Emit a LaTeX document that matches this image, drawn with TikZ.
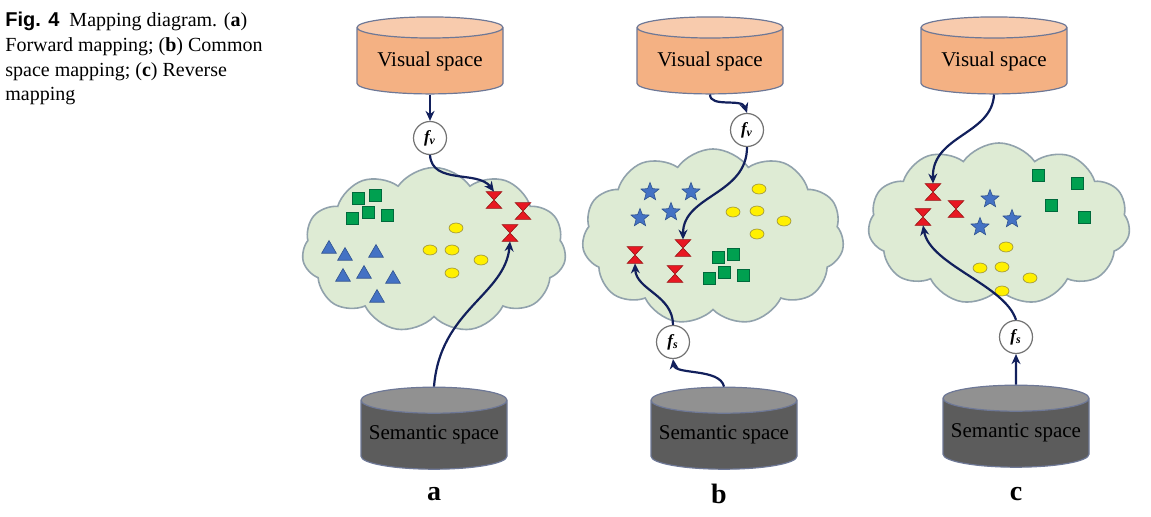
\documentclass[tikz,border=0pt]{standalone}
\usepackage{fontspec}
\setmainfont{Liberation Serif}
\newfontfamily\capsans{Liberation Sans}
\usetikzlibrary{shapes.geometric,shapes.symbols,arrows.meta}

\definecolor{cloudfill}{RGB}{222,235,212}
\definecolor{cloudline}{RGB}{145,162,172}
\definecolor{visbody}{RGB}{244,177,131}
\definecolor{vistop}{RGB}{248,203,173}
\definecolor{sembody}{RGB}{92,92,92}
\definecolor{semtop}{RGB}{145,145,145}
\definecolor{cylline}{RGB}{110,120,150}
\definecolor{arrowcol}{RGB}{18,32,92}
\definecolor{sqfill}{RGB}{0,160,80}
\definecolor{sqline}{RGB}{0,105,60}
\definecolor{blueshape}{RGB}{68,114,196}
\definecolor{blueline}{RGB}{47,82,143}
\definecolor{dotfill}{RGB}{255,240,0}
\definecolor{dotline}{RGB}{150,140,60}
\definecolor{hgfill}{RGB}{232,24,34}
\definecolor{hgline}{RGB}{150,20,20}

\begin{document}
\begin{tikzpicture}[x=0.5pt, y=-0.5pt,
  every node/.style={inner sep=0pt},
  visual/.style={cylinder, shape border rotate=90, aspect=0.2, draw=cylline, line width=0.6pt,
    cylinder uses custom fill, cylinder body fill=visbody, cylinder end fill=vistop,
    minimum width=73pt, minimum height=38.5pt, font=\fontsize{10.5}{12}\selectfont},
  semantic/.style={cylinder, shape border rotate=90, aspect=0.2, draw=cylline, line width=0.6pt,
    cylinder uses custom fill, cylinder body fill=sembody, cylinder end fill=semtop,
    minimum width=73pt, minimum height=41pt, font=\fontsize{10.5}{12}\selectfont},
  fmap/.style={circle, draw=black!55, fill=white, line width=0.6pt, minimum size=16.5pt,
    font=\fontsize{8.5}{9}\selectfont\bfseries\itshape},
  spacecloud/.style={cloud, cloud puffs=11, cloud puff arc=110, draw=cloudline, fill=cloudfill, line width=0.8pt},
  sq/.style={rectangle, draw=sqline, fill=sqfill, line width=0.3pt, minimum size=6pt},
  tri/.style={regular polygon, regular polygon sides=3, draw=blueline, fill=blueshape, line width=0.3pt, minimum size=8.5pt},
  starshape/.style={star, star points=5, star point ratio=2.3, draw=blueline, fill=blueshape, line width=0.3pt, minimum size=9.5pt},
  yellowdot/.style={ellipse, draw=dotline, fill=dotfill, line width=0.3pt, minimum width=7pt, minimum height=5pt},
  hglass/.style={minimum width=7.5pt, minimum height=8pt,
    append after command={\pgfextra{\let\hgnode\tikzlastnode
      \filldraw[fill=hgfill, draw=hgline, line width=0.3pt]
        (\hgnode.north west) -- (\hgnode.north east) -- (\hgnode.south west) -- (\hgnode.south east) -- cycle;}}},
  maparrow/.style={draw=arrowcol, line width=1.1pt, -{Stealth[length=5pt, width=4.5pt]}},
  panel/.style={font=\fontsize{14}{16}\selectfont\bfseries}
]
\useasboundingbox (0,0) rectangle (1151,517);

% Caption
\node[anchor=north west, align=left, font=\fontsize{10}{12.3}\selectfont] (caption) at (5,12)
  {{\capsans\bfseries Fig. 4}\enspace Mapping diagram. (\textbf{a})\\
   Forward mapping; (\textbf{b}) Common\\
   space mapping; (\textbf{c}) Reverse\\
   mapping};

% Ruang (a)
\node[spacecloud, minimum width=132pt, minimum height=82.5pt] (cloudA) at (434,250) {};
\node[visual] (visA) at (430,61) {Visual space};
\node[semantic] (semA) at (434,435) {Semantic space};
\node[fmap] (fvA) at (430,138) {f\textsubscript{v}};
\node[panel] (labA) at (434,494) {a};

\node[sq] (sA1) at (358,198) {};
\node[sq] (sA2) at (375,195) {};
\node[sq] (sA3) at (368,212) {};
\node[sq] (sA4) at (352,218) {};
\node[sq] (sA5) at (387,215) {};
\node[tri] (tA1) at (329,249) {};
\node[tri] (tA2) at (345,256) {};
\node[tri] (tA3) at (376,253) {};
\node[tri] (tA4) at (343,277) {};
\node[tri] (tA5) at (364,274) {};
\node[tri] (tA6) at (393,279) {};
\node[tri] (tA7) at (377,298) {};
\node[yellowdot] (yA1) at (456,228) {};
\node[yellowdot] (yA2) at (430,250) {};
\node[yellowdot] (yA3) at (452,250) {};
\node[yellowdot] (yA4) at (481,260) {};
\node[yellowdot] (yA5) at (452,273) {};
\node[hglass] (hA1) at (494,200) {};
\node[hglass] (hA2) at (523,211) {};
\node[hglass] (hA3) at (510,233) {};

\draw[maparrow] (visA.south) -- (fvA.north);
\draw[maparrow] (fvA.south) .. controls (432,185) and (478,170) .. (hA1.north);
\draw[maparrow] (semA.north) .. controls (440,310) and (505,295) .. (hA3.south);

% Ruang (b)
\node[spacecloud, minimum width=131pt, minimum height=88pt] (cloudB) at (713,237) {};
\node[visual] (visB) at (710,61) {Visual space};
\node[semantic] (semB) at (724,435) {Semantic space};
\node[fmap] (fvB) at (747,130) {f\textsubscript{v}};
\node[fmap] (fsB) at (673,342) {f\textsubscript{s}};
\node[panel] (labB) at (719,494) {b};

\node[starshape] (stB1) at (650,192) {};
\node[starshape] (stB2) at (691,192) {};
\node[starshape] (stB3) at (671,212) {};
\node[starshape] (stB4) at (640,218) {};
\node[yellowdot] (yB1) at (759,189) {};
\node[yellowdot] (yB2) at (733,212) {};
\node[yellowdot] (yB3) at (757,211) {};
\node[yellowdot] (yB4) at (784,221) {};
\node[yellowdot] (yB5) at (757,234) {};
\node[sq] (sB1) at (718,257) {};
\node[sq] (sB2) at (733,254) {};
\node[sq] (sB3) at (724,272) {};
\node[sq] (sB4) at (709,278) {};
\node[sq] (sB5) at (743,275) {};
\node[hglass] (hB1) at (635,255) {};
\node[hglass] (hB2) at (683,248) {};
\node[hglass] (hB3) at (675,274) {};

\draw[maparrow] (visB.south) .. controls (710,108) and (742,98) .. (fvB.north);
\draw[maparrow] (fvB.south) .. controls (747,195) and (683,195) .. (hB2.north);
\draw[maparrow] (semB.north) .. controls (720,368) and (675,375) .. (fsB.south);
\draw[maparrow] (fsB.north) .. controls (673,295) and (636,290) .. (hB1.south);

% Ruang (c)
\node[spacecloud, minimum width=131pt, minimum height=81pt] (cloudC) at (999,224) {};
\node[visual] (visC) at (994,61) {Visual space};
\node[semantic] (semC) at (1016,433) {Semantic space};
\node[fmap] (fsC) at (1016,337) {f\textsubscript{s}};
\node[panel] (labC) at (1016,494) {c};

\node[starshape] (stC1) at (990,199) {};
\node[starshape] (stC2) at (1012,219) {};
\node[starshape] (stC3) at (980,227) {};
\node[sq] (sC1) at (1038,175) {};
\node[sq] (sC2) at (1077,183) {};
\node[sq] (sC3) at (1051,205) {};
\node[sq] (sC4) at (1084,217) {};
\node[yellowdot] (yC1) at (1006,247) {};
\node[yellowdot] (yC2) at (980,268) {};
\node[yellowdot] (yC3) at (1002,267) {};
\node[yellowdot] (yC4) at (1030,278) {};
\node[yellowdot] (yC5) at (1002,291) {};
\node[hglass] (hC1) at (933,192) {};
\node[hglass] (hC2) at (956,209) {};
\node[hglass] (hC3) at (923,217) {};

\draw[maparrow] (visC.south) .. controls (992,135) and (932,135) .. (hC1.north);
\draw[maparrow] (semC.north) -- (fsC.south);
\draw[maparrow] (fsC.north) .. controls (1005,285) and (930,265) .. (hC3.south);

\end{tikzpicture}
\end{document}
